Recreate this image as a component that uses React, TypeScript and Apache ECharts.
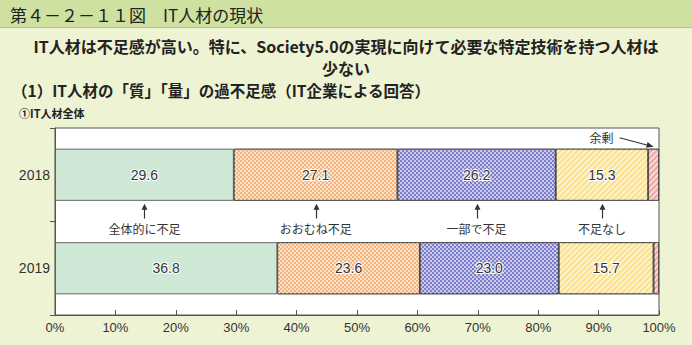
import React, { useEffect, useRef } from 'react';
import * as echarts from 'echarts';

const years = ['2018', '2019'];
const seriesNames = ['全体的に不足', 'おおむね不足', '一部で不足', '不足なし', '余剰'];
const overallShortage = [29.6, 36.8];
const mostlyShortage = [27.1, 23.6];
const partialShortage = [26.2, 23.0];
const noShortage = [15.3, 15.7];
const surplus = [1.8, 0.9];
const xMin = 0;
const xMax = 100;
const xInterval = 10;

const FONT = '"Noto Sans CJK JP", "Noto Sans", sans-serif';
const NUMFONT = '"Liberation Sans", Arial, sans-serif';

export default function App() {
  const ref = useRef<HTMLDivElement>(null);
  useEffect(() => {
    if (!ref.current) return;
    const chart = echarts.init(ref.current, null, { renderer: 'svg' });
    const allData = [overallShortage, mostlyShortage, partialShortage, noShortage, surplus];
    const styles = [
      { color: '#cfe8d5' },
      {
        color: '#f5b47e',
        decal: { symbol: 'rect', symbolSize: 1, dashArrayX: [[2, 2], [0, 2, 2, 0]], dashArrayY: [2, 0], color: 'rgba(255,240,225,0.75)' },
      },
      {
        color: '#7d7dcc',
        decal: { symbol: 'rect', symbolSize: 1, dashArrayX: [[2, 2], [0, 2, 2, 0]], dashArrayY: [2, 0], color: 'rgba(255,255,255,0.6)' },
      },
      {
        color: '#fbe08a',
        decal: { symbol: 'rect', symbolSize: 1, dashArrayX: [1, 0], dashArrayY: [2, 2], rotation: -Math.PI / 4, color: 'rgba(255,255,255,0.6)' },
      },
      {
        color: '#f2a49c',
        decal: { symbol: 'rect', symbolSize: 1, dashArrayX: [1, 0], dashArrayY: [2, 2], rotation: -Math.PI / 4, color: 'rgba(255,255,255,0.6)' },
      },
    ];
    const series = seriesNames.map((name, i) => ({
      name,
      type: 'bar',
      stack: 'total',
      barWidth: 52,
      data: allData[i],
      itemStyle: { ...styles[i], borderColor: '#444', borderWidth: 0.8 },
      label: {
        show: i < 4,
        position: 'inside',
        formatter: (p: any) => p.value.toFixed(1),
        color: '#333',
        fontSize: 14,
        fontFamily: NUMFONT,
        textBorderColor: '#fff',
        textBorderWidth: 2,
      },
    }));

    chart.setOption({
      animation: false,
      backgroundColor: '#eef3d4',
      textStyle: { fontFamily: FONT },
      grid: {
        left: 55,
        right: 33,
        top: 128,
        bottom: 30,
        show: true,
        backgroundColor: '#ffffff',
        borderColor: '#555',
        borderWidth: 1,
      },
      xAxis: {
        type: 'value',
        min: xMin,
        max: xMax,
        interval: xInterval,
        axisLine: { show: true, lineStyle: { color: '#555' } },
        axisTick: { show: true, inside: true, length: 5, lineStyle: { color: '#555' } },
        splitLine: { show: false },
        axisLabel: { formatter: '{value}%', color: '#333', fontSize: 13, margin: 6, fontFamily: NUMFONT },
      },
      yAxis: {
        type: 'category',
        data: years,
        inverse: true,
        axisLine: { show: true, lineStyle: { color: '#555' } },
        axisTick: { show: true, length: 5, lineStyle: { color: '#555' } },
        axisLabel: { color: '#333', fontSize: 14, margin: 5, fontFamily: NUMFONT },
      },
      series,
    });

    const g: any[] = [
      { type: 'rect', shape: { x: 0, y: 0, width: 692, height: 27 }, style: { fill: '#cfe1a0' }, z: 0 },
      { type: 'line', shape: { x1: 0, y1: 27.5, x2: 692, y2: 27.5 }, style: { stroke: '#adc97c', lineWidth: 1 } },
      {
        type: 'text', x: 10, y: 14,
        style: { text: '第４－２－１１図　IT人材の現状', font: `17px ${FONT}`, fill: '#222', verticalAlign: 'middle' },
      },
      {
        type: 'text', x: 346, y: 46,
        style: { text: 'IT人材は不足感が高い。特に、Society5.0の実現に向けて必要な特定技術を持つ人材は', font: `bold 16px ${FONT}`, fill: '#222', align: 'center', verticalAlign: 'middle' },
      },
      {
        type: 'text', x: 346, y: 68,
        style: { text: '少ない', font: `bold 16px ${FONT}`, fill: '#222', align: 'center', verticalAlign: 'middle' },
      },
      {
        type: 'text', x: 12, y: 90,
        style: { text: '（1）IT人材の「質」「量」の過不足感（IT企業による回答）', font: `bold 15.5px ${FONT}`, fill: '#222', verticalAlign: 'middle' },
      },
      {
        type: 'text', x: 19, y: 113,
        style: { text: '①IT人材全体', font: `bold 11px ${FONT}`, fill: '#222', verticalAlign: 'middle' },
      },
    ];

    const c0 = chart.convertToPixel({ xAxisIndex: 0, yAxisIndex: 0 }, [0, years[0]]) as number[];
    const c1 = chart.convertToPixel({ xAxisIndex: 0, yAxisIndex: 0 }, [0, years[1]]) as number[];
    const barBottom = c0[1] + 26;
    const between = (c0[1] + c1[1]) / 2;
    let cum = 0;
    for (let i = 0; i < 4; i++) {
      const v = allData[i][0];
      const mid = cum + v / 2;
      cum += v;
      const p = chart.convertToPixel({ xAxisIndex: 0, yAxisIndex: 0 }, [mid, years[0]]) as number[];
      const x = Math.round(p[0]) + 0.5;
      const tipY = barBottom + 3;
      g.push({ type: 'line', shape: { x1: x, y1: between - 3, x2: x, y2: tipY + 5 }, style: { stroke: '#333', lineWidth: 1.2 } });
      g.push({ type: 'polygon', shape: { points: [[x, tipY], [x - 3, tipY + 6], [x + 3, tipY + 6]] }, style: { fill: '#333' } });
      g.push({
        type: 'text', x: p[0], y: between + 7,
        style: { text: seriesNames[i], font: `12px ${FONT}`, fill: '#333', align: 'center', verticalAlign: 'middle' },
      });
    }
    const sp = chart.convertToPixel({ xAxisIndex: 0, yAxisIndex: 0 }, [cum + allData[4][0] / 2, years[0]]) as number[];
    const tx = sp[0];
    const ty = c0[1] - 28;
    const sx = tx - 34;
    const sy = ty - 9;
    const ang = Math.atan2(ty - sy, tx - sx);
    const hl = 7, hw = 3;
    const bx = tx - hl * Math.cos(ang), by = ty - hl * Math.sin(ang);
    g.push({ type: 'line', shape: { x1: sx, y1: sy, x2: bx, y2: by }, style: { stroke: '#333', lineWidth: 1.1 } });
    g.push({
      type: 'polygon',
      shape: { points: [[tx, ty], [bx - hw * Math.sin(ang), by + hw * Math.cos(ang)], [bx + hw * Math.sin(ang), by - hw * Math.cos(ang)]] },
      style: { fill: '#333' },
    });
    g.push({
      type: 'text', x: sx - 6, y: sy,
      style: { text: seriesNames[4], font: `12px ${FONT}`, fill: '#333', align: 'right', verticalAlign: 'middle' },
    });

    chart.setOption({ graphic: g });

    return () => chart.dispose();
  }, []);
  return <div ref={ref} style={{ position: 'fixed', left: 0, top: 0, width: 692, height: 345 }} />;
}
